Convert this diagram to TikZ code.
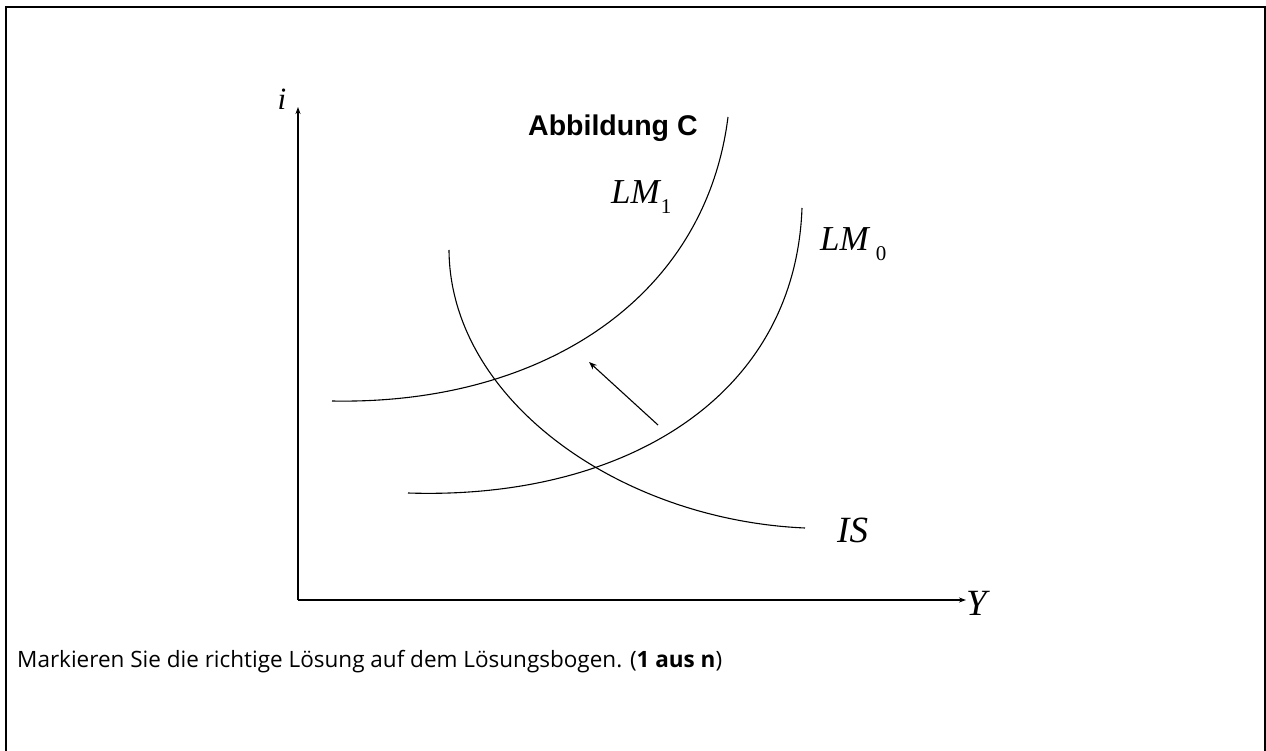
\documentclass[tikz,border=0pt]{standalone}
\usepackage{fontspec}
\setmainfont{Open Sans}
\newfontfamily\tms{Liberation Serif}
\newfontfamily\arl{Liberation Sans}
\usetikzlibrary{arrows.meta}
\tikzset{
  frameline/.style={line width=2pt},
  axisline/.style={line width=1.1pt,-{Stealth[length=7pt,width=5pt]}},
  curveline/.style={line width=1.1pt},
  shiftarrow/.style={line width=1.1pt,-{Stealth[length=8pt,width=6pt]}},
  mathlbl/.style={inner sep=0pt,font=\tms\itshape\fontsize{35}{35}\selectfont},
  smalllbl/.style={inner sep=0pt,font=\tms\itshape\fontsize{31}{31}\selectfont},
  biglbl/.style={inner sep=0pt,font=\tms\itshape\fontsize{37}{37}\selectfont}
}
\begin{document}
\begin{tikzpicture}[x=1pt,y=-1pt]
\useasboundingbox (0,0) rectangle (1266,751);
% frame
\draw[frameline] (6,751) -- (6,7) -- (1265,7) -- (1265,751);
% axes
\coordinate (O) at (298,600);
\coordinate (itop) at (298,107);
\coordinate (yend) at (966,600);
\draw[axisline] (O) -- (itop);
\draw[axisline] (O) -- (yend);
\node[smalllbl,anchor=base] (ilbl) at (282,110) {i};
\node[biglbl,anchor=base west] (ylbl) at (966,615) {Y};
% title
\node[inner sep=0pt,anchor=base west,font=\arl\bfseries\fontsize{28.5}{28.5}\selectfont] (title) at (528,136) {Abbildung C};
% curves
\coordinate (lm1a) at (332,401);
\coordinate (lm1b) at (728,117);
\draw[curveline] (lm1a) .. controls (540,405) and (705,300) .. (lm1b);
\coordinate (lm0a) at (408,493);
\coordinate (lm0b) at (802,208);
\draw[curveline] (lm0a) .. controls (620,500) and (795,400) .. (lm0b);
\coordinate (isa) at (449,250);
\coordinate (isb) at (805,528);
\draw[curveline] (isa) .. controls (450,400) and (620,520) .. (isb);
% labels
\node[mathlbl,anchor=base west] (lm1) at (611,204) {LM\kern1pt\raisebox{-10pt}{\upshape\fontsize{21}{21}\selectfont 1}};
\node[mathlbl,anchor=base west] (lm0) at (820,251) {LM\kern7pt\raisebox{-10pt}{\upshape\fontsize{21}{21}\selectfont 0}};
\node[biglbl,anchor=base west] (islbl) at (837,542) {IS};
% shift arrow
\coordinate (sa) at (658,425);
\coordinate (sb) at (589,362);
\draw[shiftarrow] (sa) -- (sb);
% instruction
\node[inner sep=0pt,anchor=base west,font=\fontsize{22.5}{22.5}\selectfont] (instr) at (17,667) {Markieren Sie die richtige Lösung auf dem Lösungsbogen. (\textbf{1 aus n})};
\end{tikzpicture}
\end{document}
